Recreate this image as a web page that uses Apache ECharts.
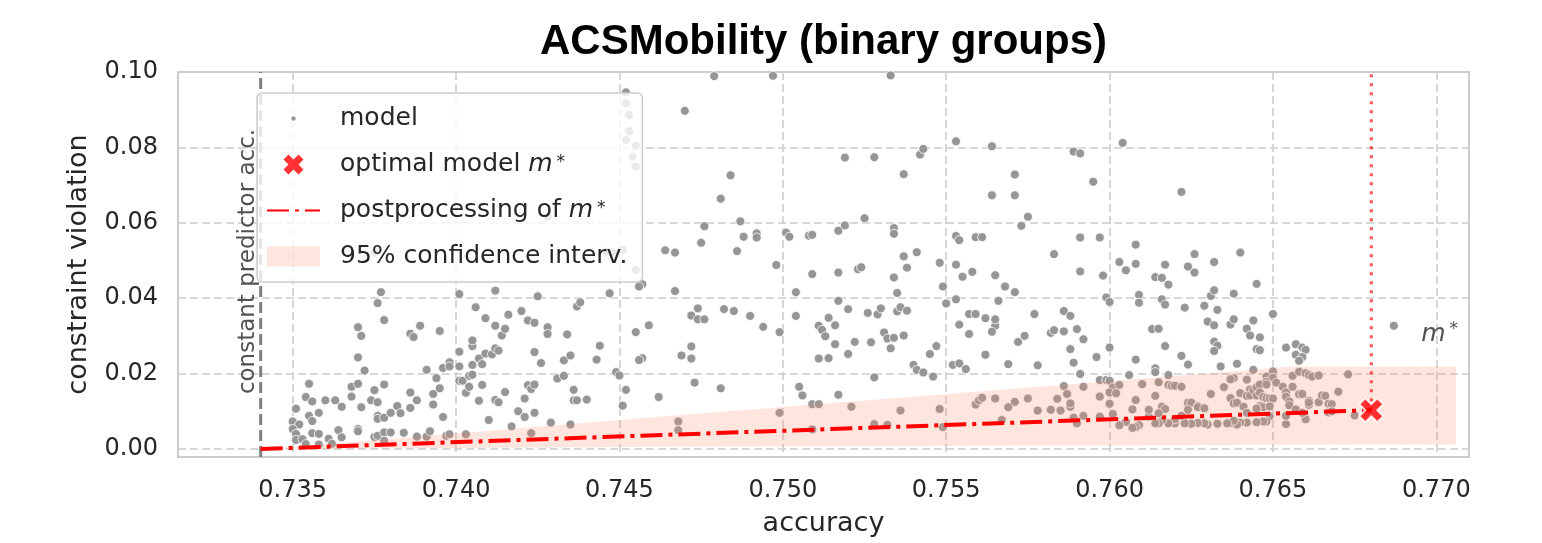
<!DOCTYPE html>
<html>
<head>
<meta charset="utf-8">
<title>ACSMobility (binary groups)</title>
<script src="https://cdn.jsdelivr.net/npm/echarts@6/dist/echarts.min.js"></script>
<style>
  html, body { margin: 0; padding: 0; background: #ffffff; }
  #chart { width: 1542px; height: 543px; }
</style>
</head>
<body>
<div id="chart"></div>
<script>
// ---- axis ranges and ticks ----
const xMin = 0.73149, xMax = 0.77100;
const yMin = -0.00212, yMax = 0.1;
const xTicks = [0.735, 0.740, 0.745, 0.750, 0.755, 0.760, 0.765, 0.770];
const yTicks = [0.00, 0.02, 0.04, 0.06, 0.08, 0.10];

// ---- reference lines ----
const constantPredictorAcc = 0.73402;
const optimalModel = [0.76801, 0.0103];
const postprocessingCurve = [[0.73402, 0.0000], [0.76801, 0.0103]];

// ---- 95% confidence band of the postprocessing curve ----
const bandAcc  = [0.7340, 0.7358, 0.7466, 0.7591, 0.7655, 0.7706];
const bandLow  = [0.0000, 0.0001, 0.0006, 0.0009, 0.0011, 0.0012];
const bandHigh = [0.0000, 0.0011, 0.0088, 0.0174, 0.0218, 0.0219];

// ---- trained models: [accuracy, constraint violation] ----
const modelPoints = [
  [0.7355,0.0173],[0.7354,0.0138],[0.7356,0.0126],[0.7351,0.0107],[0.7360,0.0129],[0.7363,0.0129],[0.7365,0.0112],[0.7358,0.0096],
  [0.7355,0.0088],[0.7356,0.0074],[0.7350,0.0073],[0.7352,0.0065],[0.7350,0.0053],[0.7351,0.0040],[0.7351,0.0024],[0.7353,0.0026],
  [0.7356,0.0042],[0.7358,0.0040],[0.7354,0.0013],[0.7358,0.0012],[0.7361,0.0027],[0.7362,0.0014],[0.7364,0.0050],[0.7365,0.0031],
  [0.7368,0.0139],[0.7368,0.0165],[0.7370,0.0173],[0.7371,0.0111],[0.7374,0.0129],[0.7375,0.0156],[0.7376,0.0124],[0.7378,0.0171],
  [0.7376,0.0088],[0.7376,0.0080],[0.7378,0.0083],[0.7370,0.0053],[0.7370,0.0047],[0.7375,0.0032],[0.7376,0.0035],[0.7378,0.0044],
  [0.7378,0.0022],[0.7380,0.0044],[0.7380,0.0096],[0.7382,0.0114],[0.7383,0.0095],[0.7384,0.0043],[0.7386,0.0109],[0.7386,0.0150],
  [0.7388,0.0129],[0.7388,0.0033],[0.7391,0.0033],[0.7392,0.0047],[0.7391,0.0210],[0.7394,0.0188],[0.7393,0.0146],[0.7393,0.0118],
  [0.7395,0.0161],[0.7396,0.0085],[0.7396,0.0215],[0.7398,0.0230],[0.7398,0.0219],[0.7397,0.0035],[0.7398,0.0039],[0.7401,0.0258],
  [0.7401,0.0219],[0.7401,0.0181],[0.7402,0.0181],[0.7403,0.0149],[0.7404,0.0165],[0.7404,0.0194],[0.7405,0.0197],[0.7405,0.0273],
  [0.7405,0.0288],[0.7405,0.0223],[0.7407,0.0240],[0.7408,0.0225],[0.7409,0.0253],[0.7408,0.0170],[0.7411,0.0251],[0.7412,0.0267],
  [0.7413,0.0261],[0.7414,0.0301],[0.7415,0.0319],[0.7415,0.0151],[0.7412,0.0130],[0.7413,0.0124],[0.7407,0.0128],[0.7410,0.0077],
  [0.7417,0.0060],[0.7419,0.0100],[0.7421,0.0085],[0.7424,0.0096],[0.7421,0.0134],[0.7422,0.0169],[0.7423,0.0159],[0.7424,0.0171],
  [0.7423,0.0042],[0.7424,0.0257],[0.7426,0.0228],[0.7429,0.0070],[0.7431,0.0187],[0.7433,0.0194],[0.7433,0.0235],[0.7435,0.0248],
  [0.7436,0.0157],[0.7436,0.0129],[0.7437,0.0129],[0.7440,0.0131],[0.7435,0.0065],[0.7403,0.0039],
  [0.7377,0.0416],[0.7376,0.0387],[0.7378,0.0342],[0.7401,0.0411],[0.7412,0.0420],[0.7425,0.0405],[0.7406,0.0376],[0.7409,0.0347],
  [0.7412,0.0327],[0.7416,0.0356],[0.7420,0.0366],[0.7422,0.0341],[0.7424,0.0335],[0.7428,0.0323],[0.7428,0.0305],[0.7434,0.0304],
  [0.7437,0.0378],[0.7438,0.0389],[0.7444,0.0274],[0.7443,0.0237],[0.7447,0.0413],[0.7455,0.0310],[0.7459,0.0328],[0.7457,0.0241],
  [0.7456,0.0236],[0.7455,0.0475],[0.7457,0.0437],[0.7456,0.0431],[0.7449,0.0204],[0.7450,0.0195],[0.7452,0.0157],[0.7451,0.0115],
  [0.7462,0.0138],[0.7370,0.0323],[0.7371,0.0300],[0.7370,0.0243],[0.7372,0.0208],[0.7386,0.0306],[0.7387,0.0297],[0.7389,0.0327],
  [0.7395,0.0313],
  [0.7452,0.0946],[0.7452,0.0917],[0.7453,0.0886],[0.7453,0.0843],[0.7452,0.0820],[0.7455,0.0804],[0.7454,0.0775],[0.7455,0.0749],
  [0.7428,0.0616],[0.7446,0.0523],[0.7448,0.0521],[0.7451,0.0528],[0.7375,0.0521],
  [0.7479,0.0989],[0.7497,0.0990],[0.7533,0.0991],[0.7470,0.0897],[0.7484,0.0726],[0.7481,0.0664],[0.7476,0.0591],[0.7487,0.0604],
  [0.7475,0.0547],[0.7488,0.0563],[0.7492,0.0572],[0.7492,0.0561],[0.7486,0.0525],[0.7464,0.0527],[0.7467,0.0521],[0.7501,0.0574],
  [0.7502,0.0563],[0.7508,0.0566],[0.7509,0.0568],[0.7517,0.0579],[0.7519,0.0593],[0.7525,0.0612],[0.7519,0.0773],[0.7528,0.0774],
  [0.7537,0.0729],[0.7542,0.0781],[0.7543,0.0796],[0.7534,0.0586],[0.7534,0.0571],[0.7537,0.0510],[0.7541,0.0522],[0.7553,0.0816],
  [0.7564,0.0803],[0.7571,0.0728],[0.7564,0.0673],[0.7571,0.0673],[0.7575,0.0616],[0.7573,0.0592],[0.7553,0.0565],[0.7554,0.0554],
  [0.7559,0.0562],[0.7561,0.0562],[0.7583,0.0517],[0.7589,0.0789],[0.7591,0.0784],[0.7591,0.0561],
  [0.7498,0.0488],[0.7467,0.0419],[0.7472,0.0354],[0.7474,0.0373],[0.7474,0.0344],[0.7476,0.0344],[0.7482,0.0371],[0.7485,0.0366],
  [0.7490,0.0353],[0.7494,0.0324],[0.7499,0.0310],[0.7472,0.0272],[0.7469,0.0248],[0.7472,0.0240],[0.7473,0.0176],[0.7481,0.0161],
  [0.7499,0.0096],[0.7468,0.0073],[0.7468,0.0050],[0.7504,0.0416],[0.7509,0.0464],[0.7517,0.0468],[0.7523,0.0477],[0.7524,0.0482],
  [0.7534,0.0455],[0.7535,0.0414],[0.7537,0.0511],[0.7538,0.0481],[0.7504,0.0353],[0.7511,0.0327],[0.7512,0.0316],[0.7513,0.0299],
  [0.7514,0.0348],[0.7516,0.0328],[0.7517,0.0393],[0.7516,0.0278],[0.7520,0.0371],[0.7522,0.0284],[0.7520,0.0252],[0.7511,0.0240],
  [0.7514,0.0241],[0.7526,0.0361],[0.7529,0.0357],[0.7530,0.0373],[0.7527,0.0283],[0.7531,0.0309],[0.7532,0.0293],[0.7534,0.0295],
  [0.7533,0.0267],[0.7535,0.0365],[0.7536,0.0376],[0.7538,0.0367],[0.7537,0.0301],[0.7528,0.0190],[0.7540,0.0223],[0.7541,0.0210],
  [0.7543,0.0203],[0.7545,0.0252],[0.7547,0.0273],[0.7546,0.0192],[0.7548,0.0494],[0.7549,0.0431],[0.7550,0.0386],[0.7505,0.0165],
  [0.7506,0.0142],[0.7509,0.0119],[0.7511,0.0119],[0.7517,0.0144],[0.7521,0.0112],[0.7536,0.0102],[0.7548,0.0106],[0.7509,0.0052],
  [0.7528,0.0066],[0.7532,0.0064],[0.7549,0.0058],[0.7553,0.0489],[0.7555,0.0457],[0.7558,0.0470],[0.7553,0.0397],[0.7565,0.0461],
  [0.7568,0.0431],[0.7571,0.0416],[0.7566,0.0393],[0.7557,0.0358],[0.7559,0.0358],[0.7562,0.0347],[0.7554,0.0330],[0.7557,0.0305],
  [0.7565,0.0327],[0.7565,0.0344],[0.7564,0.0311],[0.7562,0.0250],[0.7552,0.0223],[0.7554,0.0227],[0.7556,0.0212],[0.7569,0.0225],
  [0.7572,0.0284],[0.7574,0.0300],[0.7577,0.0358],[0.7578,0.0222],[0.7582,0.0308],[0.7583,0.0315],[0.7586,0.0312],[0.7586,0.0366],
  [0.7588,0.0353],[0.7590,0.0318],[0.7588,0.0265],[0.7589,0.0229],[0.7591,0.0199],[0.7591,0.0471],
  [0.7559,0.0118],[0.7560,0.0129],[0.7561,0.0136],[0.7565,0.0134],[0.7569,0.0111],[0.7571,0.0125],[0.7575,0.0134],[0.7578,0.0102],
  [0.7582,0.0104],[0.7584,0.0133],[0.7585,0.0102],[0.7586,0.0167],[0.7587,0.0146],[0.7588,0.0112],[0.7588,0.0121],[0.7589,0.0083],
  [0.7567,0.0077],[0.7590,0.0068],
  [0.7604,0.0812],[0.7595,0.0709],[0.7622,0.0682],[0.7597,0.0561],[0.7608,0.0542],[0.7626,0.0517],[0.7640,0.0521],
  [0.7603,0.0496],[0.7608,0.0491],[0.7605,0.0474],[0.7617,0.0489],[0.7614,0.0456],[0.7616,0.0454],[0.7618,0.0436],[0.7624,0.0484],
  [0.7626,0.0468],[0.7632,0.0496],[0.7598,0.0460],[0.7599,0.0402],[0.7600,0.0390],[0.7609,0.0409],[0.7609,0.0388],[0.7616,0.0397],
  [0.7617,0.0383],[0.7623,0.0375],[0.7629,0.0380],[0.7631,0.0406],[0.7632,0.0421],[0.7633,0.0369],[0.7638,0.0412],[0.7645,0.0438],
  [0.7650,0.0358],[0.7592,0.0291],[0.7613,0.0318],[0.7615,0.0319],[0.7630,0.0338],[0.7632,0.0328],[0.7637,0.0330],[0.7638,0.0344],
  [0.7642,0.0319],[0.7643,0.0301],[0.7644,0.0341],[0.7646,0.0296],[0.7632,0.0285],[0.7633,0.0274],[0.7632,0.0260],[0.7645,0.0265],
  [0.7646,0.0262],[0.7617,0.0273],[0.7600,0.0269],[0.7596,0.0244],[0.7608,0.0237],[0.7622,0.0247],[0.7624,0.0224],[0.7634,0.0219],
  [0.7639,0.0226],[0.7654,0.0269],[0.7657,0.0278],[0.7659,0.0269],[0.7660,0.0263],[0.7657,0.0250],[0.7659,0.0244],[0.7658,0.0234],
  [0.7687,0.0327],
  [0.7606,0.0196],[0.7614,0.0214],[0.7614,0.0204],[0.7618,0.0196],[0.7644,0.0210],[0.7650,0.0206],[0.7648,0.0192],[0.7650,0.0189],
  [0.7648,0.0178],[0.7638,0.0188],[0.7637,0.0185],[0.7642,0.0184],[0.7656,0.0194],[0.7658,0.0205],[0.7660,0.0201],[0.7661,0.0196],
  [0.7662,0.0192],[0.7664,0.0195],[0.7673,0.0198],[0.7597,0.0183],[0.7599,0.0183],[0.7600,0.0181],[0.7601,0.0163],[0.7600,0.0150],
  [0.7602,0.0148],[0.7603,0.0170],[0.7592,0.0165],[0.7597,0.0139],[0.7600,0.0120],[0.7607,0.0105],[0.7608,0.0130],[0.7610,0.0172],
  [0.7614,0.0141],[0.7615,0.0177],[0.7618,0.0170],[0.7619,0.0168],[0.7620,0.0168],[0.7622,0.0165],[0.7616,0.0112],[0.7617,0.0106],
  [0.7624,0.0123],[0.7625,0.0123],[0.7627,0.0114],[0.7627,0.0111],[0.7629,0.0108],[0.7631,0.0146],[0.7635,0.0164],[0.7637,0.0135],
  [0.7638,0.0121],[0.7639,0.0123],[0.7640,0.0148],[0.7641,0.0112],[0.7642,0.0141],[0.7643,0.0158],[0.7643,0.0142],[0.7644,0.0156],
  [0.7645,0.0164],[0.7645,0.0142],[0.7646,0.0171],[0.7646,0.0150],[0.7647,0.0138],[0.7648,0.0135],[0.7648,0.0171],[0.7649,0.0134],
  [0.7650,0.0134],[0.7646,0.0114],[0.7647,0.0111],[0.7649,0.0113],[0.7645,0.0108],[0.7651,0.0176],[0.7653,0.0165],[0.7654,0.0150],
  [0.7654,0.0139],[0.7655,0.0126],[0.7655,0.0116],[0.7656,0.0165],[0.7658,0.0145],[0.7659,0.0146],[0.7661,0.0117],[0.7661,0.0128],
  [0.7661,0.0123],[0.7664,0.0124],[0.7665,0.0142],[0.7666,0.0141],[0.7667,0.0120],[0.7668,0.0119],[0.7670,0.0152],[0.7660,0.0079],
  [0.7654,0.0066],[0.7667,0.0097],[0.7668,0.0100],[0.7675,0.0089],[0.7649,0.0087],[0.7648,0.0073],[0.7647,0.0073],[0.7645,0.0071],
  [0.7642,0.0070],[0.7640,0.0070],[0.7639,0.0065],[0.7637,0.0069],[0.7638,0.0075],[0.7636,0.0068],[0.7633,0.0067],[0.7630,0.0065],
  [0.7629,0.0068],[0.7627,0.0069],[0.7625,0.0067],[0.7623,0.0068],[0.7622,0.0088],[0.7620,0.0068],[0.7620,0.0079],[0.7618,0.0068],
  [0.7616,0.0075],[0.7615,0.0068],[0.7614,0.0068],[0.7612,0.0086],[0.7609,0.0063],[0.7608,0.0058],[0.7607,0.0056],[0.7605,0.0072],
  [0.7603,0.0063],[0.7601,0.0093],[0.7597,0.0086],[0.7592,0.0088],[0.7615,0.0095],[0.7612,0.0104],[0.7624,0.0104],[0.7642,0.0096],
  [0.7645,0.0107],[0.7654,0.0088],[0.7657,0.0105],[0.7659,0.0096]
];

// position of the "m*" annotation
const mStarAnnotation = [0.7701, 0.0305];

// ---- styling ----
const TEXT = '#262626';
const GRID = '#cccccc';
const MODEL_GRAY = '#969696';
const BAND_FILL = 'rgba(250,140,110,0.22)';
const FONT = "'DejaVu Sans', 'Noto Sans', sans-serif";

// filled "X" marker
const crossMarker = 'path://M3,0L6,3L9,0L12,3L9,6L12,9L9,12L6,9L3,12L0,9L3,6L0,3Z';
// legend icons sized inside a 53x20 box
const legendDot = 'path://M0,0M53,20M29.7,10A3.2,3.2,0,1,1,23.3,10A3.2,3.2,0,1,1,29.7,10Z';
const legendCross = 'path://M0,0M53,20M21.5,0L26.5,5L31.5,0L36.5,5L31.5,10L36.5,15L31.5,20L26.5,15L21.5,20L16.5,15L21.5,10L16.5,5Z';

const chart = echarts.init(document.getElementById('chart'), null, { renderer: 'canvas' });

chart.setOption({
  animation: false,
  backgroundColor: '#ffffff',
  title: {
    text: 'ACSMobility (binary groups)',
    left: 540,
    top: 21,
    padding: 0,
    textStyle: { fontFamily: "'Liberation Sans', Arial, sans-serif", fontWeight: 'bold', fontSize: 42, color: '#000000' }
  },
  grid: {
    left: 178, top: 72, width: 1291, height: 385,
    show: true, borderColor: GRID, borderWidth: 2, backgroundColor: 'transparent'
  },
  legend: {
    orient: 'vertical',
    left: 257, top: 93,
    padding: [13, 15, 13, 9],
    itemWidth: 53, itemHeight: 20, itemGap: 21,
    backgroundColor: 'rgba(255,255,255,0.8)',
    borderColor: GRID, borderWidth: 1.5, borderRadius: 5,
    selectedMode: false,
    z: 10,
    textStyle: {
      fontFamily: FONT, fontSize: 25, color: TEXT, lineHeight: 20,
      padding: [0, 0, 0, 15],
      rich: {
        mi:  { fontFamily: FONT, fontStyle: 'italic', fontSize: 25, color: TEXT, lineHeight: 20 },
        sup: { fontFamily: FONT, fontSize: 17, color: TEXT, verticalAlign: 'top', lineHeight: 8, padding: [0, 0, 0, 4] }
      }
    },
    formatter: name => name.replace('m*', '{mi|m}{sup|*}'),
    data: [
      { name: 'model', icon: legendDot },
      { name: 'optimal model m*', icon: legendCross, itemStyle: { borderWidth: 0 } },
      { name: 'postprocessing of m*', itemStyle: { opacity: 0 } },
      { name: '95% confidence interv.', icon: 'rect' }
    ]
  },
  xAxis: {
    type: 'value',
    min: xMin, max: xMax,
    name: 'accuracy',
    nameLocation: 'middle',
    nameGap: 53,
    nameTextStyle: { fontFamily: FONT, fontSize: 27, color: TEXT },
    axisLine: { show: false },
    axisTick: { show: false, customValues: xTicks },
    axisLabel: {
      customValues: xTicks,
      formatter: v => v.toFixed(3),
      fontFamily: FONT, fontSize: 24, color: TEXT, margin: 22
    },
    splitLine: { show: true, lineStyle: { color: GRID, width: 1.6, type: [8, 4] } }
  },
  yAxis: {
    type: 'value',
    min: yMin, max: yMax,
    name: 'constraint violation',
    nameLocation: 'middle',
    nameGap: 86,
    nameTextStyle: { fontFamily: FONT, fontSize: 27, color: TEXT },
    axisLine: { show: false },
    axisTick: { show: false, customValues: yTicks },
    axisLabel: {
      customValues: yTicks,
      formatter: v => v.toFixed(2),
      fontFamily: FONT, fontSize: 24, color: TEXT, margin: 20
    },
    splitLine: { show: true, lineStyle: { color: GRID, width: 1.6, type: [8, 4] } }
  },
  series: [
    {
      name: 'constant predictor',
      type: 'line',
      data: [[constantPredictorAcc, yMin], [constantPredictorAcc, yMax]],
      symbol: 'none',
      lineStyle: { color: '#7f7f7f', width: 3, type: [11, 5], cap: 'butt' },
      z: 1,
      silent: true
    },
    {
      name: 'constant predictor label',
      type: 'scatter',
      data: [[constantPredictorAcc, (yMin + yMax) / 2]],
      symbolSize: 0,
      silent: true,
      z: 1,
      label: {
        show: true,
        position: 'inside',
        rotate: 90,
        offset: [3, -13],
        formatter: 'constant predictor acc.',
        fontFamily: FONT, fontSize: 23, color: TEXT
      }
    },
    {
      name: 'model',
      type: 'scatter',
      data: modelPoints,
      symbol: 'circle',
      symbolSize: 9,
      itemStyle: { color: MODEL_GRAY, borderColor: '#ffffff', borderWidth: 0.8, opacity: 1 },
      z: 2,
      silent: true
    },
    {
      name: '95% confidence interv.',
      type: 'custom',
      coordinateSystem: 'cartesian2d',
      data: [[bandAcc[0], bandLow[0]]],
      itemStyle: { color: BAND_FILL },
      z: 3,
      silent: true,
      renderItem: (params, api) => {
        const pts = [];
        for (let i = 0; i < bandAcc.length; i++) pts.push(api.coord([bandAcc[i], bandHigh[i]]));
        for (let i = bandAcc.length - 1; i >= 0; i--) pts.push(api.coord([bandAcc[i], bandLow[i]]));
        return { type: 'polygon', shape: { points: pts }, style: { fill: BAND_FILL } };
      }
    },
    {
      name: 'postprocessing of m*',
      type: 'line',
      data: postprocessingCurve,
      symbol: 'none',
      lineStyle: { color: '#ff0000', width: 4, type: [22, 6, 4, 6], cap: 'butt' },
      itemStyle: { color: '#ff0000' },
      z: 4,
      silent: true
    },
    {
      name: 'optimum guide',
      type: 'line',
      data: [optimalModel, [optimalModel[0], yMax]],
      symbol: 'none',
      lineStyle: { color: 'rgba(255,40,40,0.8)', width: 3, type: [3, 6], cap: 'butt' },
      z: 4,
      silent: true
    },
    {
      name: 'optimal model m*',
      type: 'scatter',
      data: [optimalModel],
      symbol: crossMarker,
      symbolSize: 24,
      itemStyle: { color: '#ff0000', borderColor: '#ffffff', borderWidth: 2 },
      z: 6,
      silent: true
    },
    {
      name: 'm* annotation',
      type: 'scatter',
      data: [mStarAnnotation],
      symbolSize: 0,
      silent: true,
      z: 6,
      label: {
        show: true,
        position: 'inside',
        formatter: '{mi|m}{sup|*}',
        rich: {
          mi:  { fontFamily: FONT, fontStyle: 'italic', fontSize: 25, color: TEXT, lineHeight: 26 },
          sup: { fontFamily: FONT, fontSize: 17, color: TEXT, verticalAlign: 'top', lineHeight: 8, padding: [0, 0, 0, 4] }
        }
      }
    }
  ]
});
</script>
</body>
</html>
